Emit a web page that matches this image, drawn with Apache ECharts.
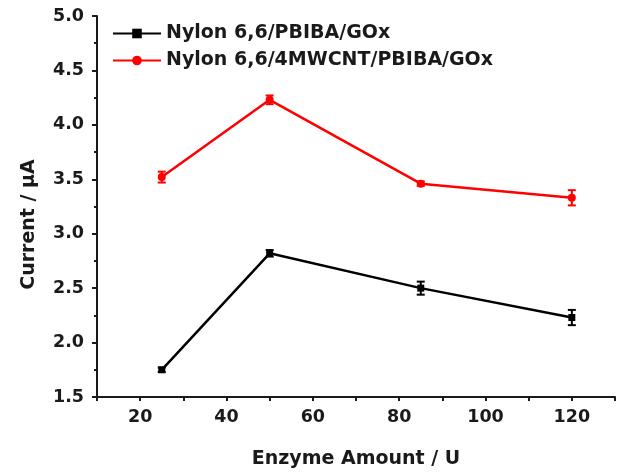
<!DOCTYPE html>
<html><head><meta charset="utf-8">
<script src="https://cdn.jsdelivr.net/npm/echarts@6/dist/echarts.min.js"></script>
<style>html,body{margin:0;padding:0;background:#fff}#c{width:619px;height:474px}</style>
</head><body><div id="c"></div>
<script>
const enzyme = [25, 50, 85, 120];
const seriesA = [1.75, 2.82, 2.50, 2.23];
const errA = [0.02, 0.03, 0.06, 0.07];
const seriesB = [3.52, 4.23, 3.46, 3.33];
const errB = [0.05, 0.04, 0.02, 0.07];
const nameA = 'Nylon 6,6/PBIBA/GOx';
const nameB = 'Nylon 6,6/4MWCNT/PBIBA/GOx';

const chart = echarts.init(document.getElementById('c'));
const font = '"DejaVu Sans", Arial, sans-serif';
const ink = '#1a1a1a';
function errSeries(vals, errs, color) {
  return {
    type: 'custom', silent: true, z: 3,
    data: enzyme.map((x, i) => [x, vals[i] - errs[i], vals[i] + errs[i]]),
    renderItem: function (params, api) {
      const lo = api.coord([api.value(0), api.value(1)]);
      const hi = api.coord([api.value(0), api.value(2)]);
      const w = 4;
      const st = { stroke: color, lineWidth: 2 };
      return { type: 'group', children: [
        { type: 'line', shape: { x1: lo[0], y1: lo[1], x2: hi[0], y2: hi[1] }, style: st },
        { type: 'line', shape: { x1: lo[0] - w, y1: lo[1], x2: lo[0] + w, y2: lo[1] }, style: st },
        { type: 'line', shape: { x1: hi[0] - w, y1: hi[1], x2: hi[0] + w, y2: hi[1] }, style: st }
      ]};
    }
  };
}
chart.setOption({
  animation: false,
  textStyle: { fontFamily: font },
  grid: { left: 97, right: 4, top: 16, bottom: 76, containLabel: false },
  legend: {
    data: [nameA, nameB], orient: 'vertical', left: 107, top: 19,
    itemWidth: 48, itemHeight: 12, itemGap: 8,
    textStyle: { fontSize: 19, fontWeight: 'bold', color: ink, fontFamily: font }
  },
  xAxis: {
    type: 'value', min: 10, max: 130, interval: 10,
    name: 'Enzyme Amount / U', nameLocation: 'middle', nameGap: 53,
    nameTextStyle: { fontSize: 19, fontWeight: 'bold', color: ink, fontFamily: font },
    axisLine: { show: true, lineStyle: { color: ink, width: 2 } },
    axisTick: { show: true, length: 4, lineStyle: { color: ink, width: 2 } },
    axisLabel: { fontSize: 17.5, fontWeight: 'bold', color: ink, margin: 11, fontFamily: font,
      formatter: v => (v % 20 === 0 ? String(v) : '') },
    splitLine: { show: false }
  },
  yAxis: {
    type: 'value', min: 1.5, max: 5.0, interval: 0.5,
    name: 'Current / \u03bcA', nameLocation: 'middle', nameGap: 58,
    nameTextStyle: { fontSize: 19, fontWeight: 'bold', color: ink, fontFamily: font, padding: [0, 36, 0, 0] },
    axisLine: { show: true, lineStyle: { color: ink, width: 2 } },
    axisTick: { show: true, length: 5, lineStyle: { color: ink, width: 2 } },
    minorTick: { show: true, splitNumber: 2, length: 3, lineStyle: { color: ink, width: 2 } },
    axisLabel: { fontSize: 17.5, fontWeight: 'bold', color: ink, margin: 13, fontFamily: font,
      formatter: v => v.toFixed(1) },
    splitLine: { show: false }
  },
  series: [
    { name: nameA, type: 'line', data: enzyme.map((x, i) => [x, seriesA[i]]),
      symbol: 'rect', symbolSize: 7, z: 4,
      lineStyle: { color: '#000', width: 2.5 }, itemStyle: { color: '#000' } },
    { name: nameB, type: 'line', data: enzyme.map((x, i) => [x, seriesB[i]]),
      symbol: 'circle', symbolSize: 8, z: 4,
      lineStyle: { color: '#ff0000', width: 2.5 }, itemStyle: { color: '#ff0000' } },
    errSeries(seriesA, errA, '#000'),
    errSeries(seriesB, errB, '#ff0000')
  ]
});
</script></body></html>
